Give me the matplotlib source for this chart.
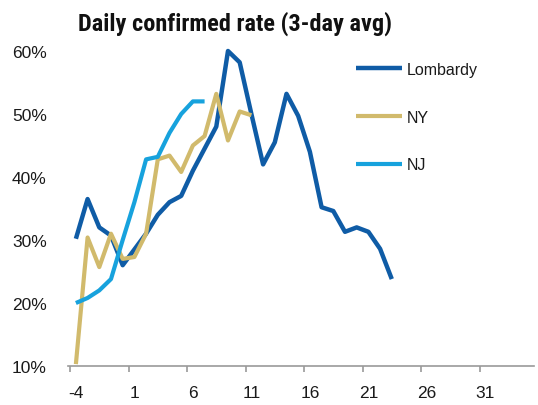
import matplotlib
matplotlib.use('Agg')
import matplotlib.pyplot as plt
from matplotlib.ticker import FixedLocator, FuncFormatter

# days since outbreak start (x) and 3-day avg confirmed rate in % (y)
lombardy_days = list(range(-4, 24))
lombardy_rate = [30.2, 36.5, 32.0, 30.7, 26.0, 28.5, 31.0, 34.0, 36.0, 37.0,
                 41.0, 44.5, 48.0, 60.0, 58.2, 50.0, 42.0, 45.5, 53.2, 49.7,
                 44.0, 35.2, 34.6, 31.3, 32.0, 31.3, 28.6, 23.8]

ny_days = list(range(-4, 12))
ny_rate = [10.3, 30.4, 25.7, 31.0, 27.0, 27.3, 31.0, 42.8, 43.4, 40.8,
           45.0, 46.5, 53.2, 45.8, 50.4, 49.8]

nj_days = list(range(-4, 8))
nj_rate = [20.0, 20.8, 22.0, 23.8, 30.0, 36.0, 42.8, 43.2, 47.0, 50.0,
           52.0, 52.0]

x_labels = [-4, 1, 6, 11, 16, 21, 26, 31]
y_ticks = [10, 20, 30, 40, 50, 60]

W, H = 538, 406
fig = plt.figure(figsize=(W/100, H/100), dpi=100)
plt.rcParams['font.family'] = ['Liberation Sans', 'DejaVu Sans']

left_px, right_px = 67.7, 534
top_px, bot_px = 39.4, 367
ax = fig.add_axes([left_px/W, 1-bot_px/H, (right_px-left_px)/W, (bot_px-top_px)/H])

ax.plot(lombardy_days, lombardy_rate, color='#0F5CA6', lw=3.2, label='Lombardy',
        solid_joinstyle='round', solid_capstyle='butt')
ax.plot(ny_days, ny_rate, color='#D1BA6C', lw=3.0, label='NY',
        solid_joinstyle='round', solid_capstyle='butt')
ax.plot(nj_days, nj_rate, color='#17A2DD', lw=3.0, label='NJ',
        solid_joinstyle='round', solid_capstyle='butt')

ax.set_xlim(-4.7, -4.7 + (right_px-left_px)/11.7)
ax.set_ylim(10, 62)

for s in ['top', 'right', 'left']:
    ax.spines[s].set_visible(False)
ax.spines['bottom'].set_color('#9a9a9a')
ax.spines['bottom'].set_linewidth(1.2)

# tick marks between categories, labels on categories
ax.xaxis.set_major_locator(FixedLocator([v - 0.5 for v in x_labels]))
ax.xaxis.set_major_formatter(FuncFormatter(lambda v, p: ''))
ax.xaxis.set_minor_locator(FixedLocator(x_labels))
ax.xaxis.set_minor_formatter(FuncFormatter(lambda v, p: '%d' % round(v)))
ax.tick_params(axis='x', which='major', length=4.5, width=1.2, color='#9a9a9a')
ax.tick_params(axis='x', which='minor', length=0, pad=14, labelsize=12.5, labelcolor='#1a1a1a')

ax.set_yticks(y_ticks)
ax.set_yticklabels(['%d%%' % v for v in y_ticks])
ax.tick_params(axis='y', length=0, pad=15, labelsize=12.5, labelcolor='#1a1a1a')

leg = fig.legend(loc='upper left', bbox_to_anchor=(356/W, 1-63/H), frameon=False,
                 fontsize=11.5, handlelength=2.9, handletextpad=0.25,
                 labelspacing=2.05, borderpad=0, borderaxespad=0)
for t in leg.get_texts():
    t.set_color('#1a1a1a')

fig.text(78/W, 1-31/H, 'Daily confirmed rate (3-day avg)', fontsize=17.5,
         fontweight='bold', family=['Roboto Condensed', 'Roboto', 'DejaVu Sans'],
         va='baseline', ha='left', color='#111111')

fig.savefig('out.png', dpi=100)
